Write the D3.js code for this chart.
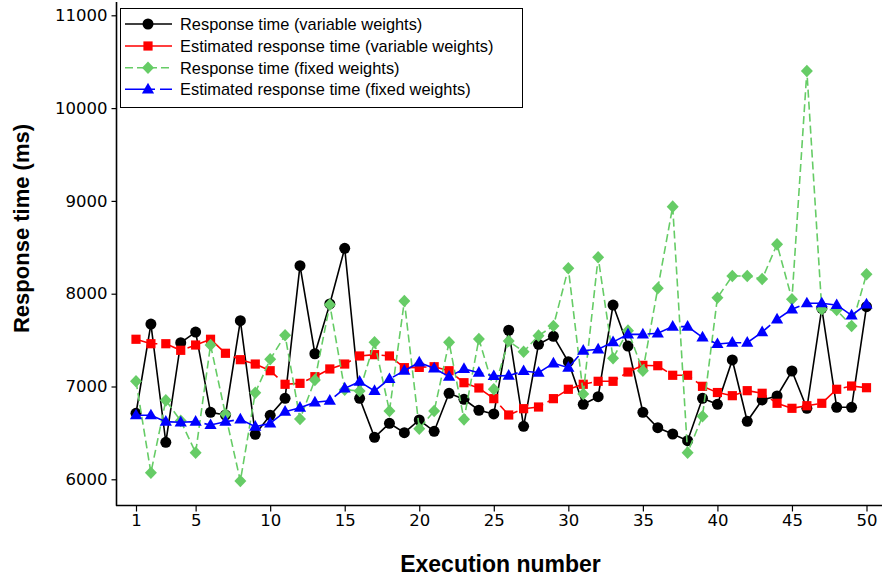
<!DOCTYPE html>
<html>
<head>
<meta charset="utf-8">
<script src="https://cdn.jsdelivr.net/npm/d3@7"></script>
<style>
  html, body { margin: 0; padding: 0; background: #fff; }
  svg { display: block; }
</style>
</head>
<body>
<div id="chart"></div>
<script>
// Execution numbers (x) and tick values
const executions = [1,2,3,4,5,6,7,8,9,10,11,12,13,14,15,16,17,18,19,20,
  21,22,23,24,25,26,27,28,29,30,31,32,33,34,35,36,37,38,39,40,
  41,42,43,44,45,46,47,48,49,50];
const xTicks = [1,5,10,15,20,25,30,35,40,45,50];
const yTicks = [6000,7000,8000,9000,10000,11000];

// Measured response time, variable weights (ms)
const respVariable = [6711,7673,6399,7472,7587,6722,6693,7709,6485,6690,
  6873,8302,7353,7890,8489,6873,6453,6603,6502,6639,
  6517,6927,6862,6744,6704,7606,6571,7455,7541,7267,
  6808,6890,7878,7436,6722,6556,6488,6416,6873,6808,
  7286,6625,6855,6898,7167,6765,7843,6776,6776,7860];

// Estimated response time, variable weights (ms)
const estVariable = [7509,7461,7461,7390,7447,7509,7358,7289,7242,7170,
  7024,7034,7106,7189,7242,7329,7343,7329,7203,7206,
  7213,7170,7041,6984,6869,6693,6761,6779,6869,6970,
  7024,7056,7056,7156,7228,7224,7121,7121,7002,6935,
  6901,6955,6927,6819,6765,6793,6819,6970,7005,6987];

// Measured response time, fixed weights (ms)
const respFixed = [7056,6071,6851,6630,6287,7447,6700,5982,6933,7293,
  7552,6650,7070,7882,6965,6952,7476,6736,7921,6546,
  6736,7476,6646,7512,6970,7490,7375,7548,7652,8274,
  6919,8392,7304,7602,7170,8058,8938,6287,6679,7957,
  8191,8191,8158,8532,7940,10400,7832,7824,7652,8209];

// Estimated response time, fixed weights (ms)
const estFixed = [6690,6690,6621,6614,6621,6585,6621,6646,6567,6603,
  6729,6772,6830,6847,6980,7052,6952,7081,7170,7260,
  7196,7106,7189,7149,7113,7117,7167,7149,7250,7203,
  7386,7401,7479,7562,7562,7573,7645,7645,7530,7458,
  7472,7472,7587,7724,7832,7897,7897,7878,7767,7886];

const seriesNames = [
  "Response time (variable weights)",
  "Estimated response time (variable weights)",
  "Response time (fixed weights)",
  "Estimated response time (fixed weights)"
];

const W = 882, H = 579;
const plotLeft = 116.5, plotBottom = 505.5, plotTop = 2, plotRight = 882;

const x = d3.scaleLinear().domain([1, 50]).range([136, 866.5]);
const y = d3.scaleLinear().domain([6000, 11000]).range([479.3, 15.3]);

const svg = d3.select("#chart").append("svg")
  .attr("width", W).attr("height", H);

// marker shapes
function markerPath(kind) {
  switch (kind) {
    case "circle": return d3.symbol(d3.symbolCircle, Math.PI * 5.5 * 5.5)();
    case "square": return "M-4.6,-4.6H4.6V4.6H-4.6Z";
    case "diamond": return "M0,-6.3L6,0L0,6.3L-6,0Z";
    case "triangle": return "M0,-6.6L6.1,4.1L-6.1,4.1Z";
  }
}

const series = [
  { name: seriesNames[0], values: respVariable, color: "#000000", dash: null, marker: "circle" },
  { name: seriesNames[1], values: estVariable, color: "#ff0000", dash: "22,5", marker: "square" },
  { name: seriesNames[2], values: respFixed, color: "#66cc66", dash: "8,4", marker: "diamond" },
  { name: seriesNames[3], values: estFixed, color: "#0000ff", dash: "30,5", marker: "triangle" }
];

// axes
const xAxis = svg.append("g")
  .attr("transform", `translate(0,${plotBottom})`)
  .call(d3.axisBottom(x).tickValues(xTicks).tickFormat(d3.format("d"))
    .tickSize(6).tickPadding(3).tickSizeOuter(0));
xAxis.select(".domain").remove();

const yAxis = svg.append("g")
  .attr("transform", `translate(${plotLeft},0)`)
  .call(d3.axisLeft(y).tickValues(yTicks).tickFormat(d3.format("d"))
    .tickSize(5).tickPadding(4).tickSizeOuter(0));
yAxis.select(".domain").remove();

svg.selectAll(".tick line").attr("stroke", "#000").attr("stroke-width", 1.2);
svg.selectAll(".tick text")
  .attr("font-family", "'DejaVu Sans', sans-serif")
  .attr("font-size", "16.5px")
  .attr("fill", "#000");

svg.append("line")
  .attr("x1", plotLeft - 0.6).attr("x2", plotRight)
  .attr("y1", plotBottom).attr("y2", plotBottom)
  .attr("stroke", "#000").attr("stroke-width", 1.6);
svg.append("line")
  .attr("x1", plotLeft).attr("x2", plotLeft)
  .attr("y1", plotTop).attr("y2", plotBottom)
  .attr("stroke", "#000").attr("stroke-width", 1.6);

// axis titles
svg.append("text")
  .attr("x", 500.5).attr("y", 571.5)
  .attr("text-anchor", "middle")
  .attr("font-family", "'Liberation Sans', Arial, sans-serif")
  .attr("font-weight", "bold")
  .attr("font-size", "23px")
  .text("Execution number");

svg.append("text")
  .attr("transform", "translate(29,228.5) rotate(-90)")
  .attr("text-anchor", "middle")
  .attr("font-family", "'Liberation Sans', Arial, sans-serif")
  .attr("font-weight", "bold")
  .attr("font-size", "22px")
  .text("Response time (ms)");

// series lines and markers
const line = d3.line().x((d, i) => x(executions[i])).y(d => y(d));

series.forEach(s => {
  const g = svg.append("g");
  g.append("path")
    .attr("d", line(s.values))
    .attr("fill", "none")
    .attr("stroke", s.color)
    .attr("stroke-width", 1.6)
    .attr("stroke-dasharray", s.dash);
  g.selectAll("path.m")
    .data(s.values)
    .join("path")
    .attr("class", "m")
    .attr("transform", (d, i) => `translate(${x(executions[i])},${y(d)})`)
    .attr("d", markerPath(s.marker))
    .attr("fill", s.color);
});

// legend
const legend = svg.append("g");
legend.append("rect")
  .attr("x", 120.5).attr("y", 8.5)
  .attr("width", 402).attr("height", 99)
  .attr("fill", "#fff").attr("stroke", "#000").attr("stroke-width", 1);

const rowY = [24, 46, 67.7, 89.3];
series.forEach((s, i) => {
  const ly = rowY[i];
  legend.append("line")
    .attr("x1", 125).attr("x2", 172)
    .attr("y1", ly).attr("y2", ly)
    .attr("stroke", s.color).attr("stroke-width", 1.6)
    .attr("stroke-dasharray", s.dash);
  legend.append("path")
    .attr("transform", `translate(148,${ly})`)
    .attr("d", markerPath(s.marker))
    .attr("fill", s.color);
  legend.append("text")
    .attr("x", 180).attr("y", ly + 5.8)
    .attr("font-family", "'Liberation Sans', Arial, sans-serif")
    .attr("font-size", "16.4px")
    .attr("fill", "#000")
    .text(s.name);
});
</script>
</body>
</html>
